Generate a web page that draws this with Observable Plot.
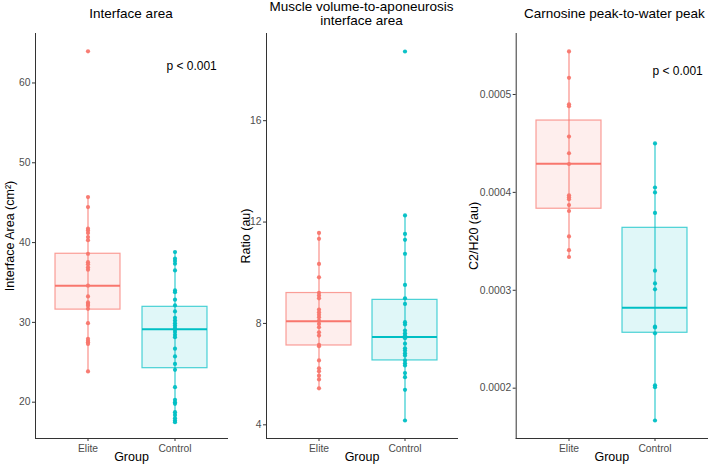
<!DOCTYPE html>
<html>
<head>
<meta charset="utf-8">
<script src="https://cdn.jsdelivr.net/npm/d3@7"></script>
<script src="https://cdn.jsdelivr.net/npm/@observablehq/plot@0.6"></script>
<style>
  html, body { margin: 0; padding: 0; background: white; }
  #chart { display: flex; width: 709px; height: 466px; overflow: hidden; font-family: "Liberation Sans", Arial, sans-serif; }
  .panel { display: flex; flex-direction: column; }
  .title { height: 28px; font-size: 13.5px; color: #000; text-align: center; line-height: 28px; white-space: nowrap; box-sizing: border-box; }
  .title.two { line-height: 14.4px; padding-top: 0; }
  svg { display: block; }
</style>
</head>
<body>
<div id="chart"></div>
<script>
const groups = ["Elite", "Control"];
const groupColors = ["#F8766D", "#00BFC4"];

// Interface area (cm²)
const areaElite = [63.97, 45.7, 44.45, 41.74, 41.5, 41.2, 40.7, 40.3, 38.6, 37.55, 37.27, 36.9, 36.6,
  34.6, 33.25, 32.5, 32.3, 32.1, 31.7, 29.9, 27.95, 27.7, 27.5, 27.3, 23.85];
const areaControl = [38.81, 37.98, 37.68, 37.35, 36.51, 34.0, 33.79, 32.84, 32.13, 31.37, 30.58, 30.24,
  29.9, 29.6, 29.3, 29.08, 28.78, 28.45, 28.15, 26.7, 25.73, 24.8, 24.06, 21.88, 20.3, 20.0, 19.8,
  18.75, 18.4, 18.0, 17.7, 17.5];
// box summaries: [lower whisker, Q1, median, Q3, upper whisker]
const areaBoxElite = [23.85, 31.6, 34.6, 38.6, 45.7];
const areaBoxControl = [17.5, 24.26, 29.15, 31.95, 38.81];
const areaTicks = [20, 30, 40, 50, 60];

// Muscle volume-to-aponeurosis interface area ratio (au)
const ratioElite = [11.57, 11.34, 10.35, 9.82, 9.21, 9.10, 8.99, 8.55, 8.44, 8.34, 8.24, 8.11, 7.98,
  7.85, 7.65, 7.52, 7.16, 7.10, 6.54, 6.23, 6.11, 5.94, 5.79, 5.44];
const ratioControl = [18.73, 12.26, 11.53, 11.30, 10.75, 9.52, 8.99, 8.77, 8.05, 7.96, 7.72, 7.61,
  7.52, 7.42, 7.20, 7.02, 6.93, 6.82, 6.73, 6.54, 6.43, 6.34, 6.04, 5.88, 5.38, 4.17];
const ratioBoxElite = [5.44, 7.13, 8.09, 9.2, 11.57];
const ratioBoxControl = [4.17, 6.54, 7.46, 8.93, 12.26];
const ratioTicks = [4, 8, 12, 16];

// Carnosine peak-to-water peak, C2/H20 (au)
const carnElite = [0.000544, 0.000517, 0.000490, 0.000488, 0.000457, 0.000440, 0.000429, 0.000397,
  0.000395, 0.000393, 0.000387, 0.000381, 0.000355, 0.000341, 0.000334];
const carnControl = [0.000450, 0.000405, 0.000400, 0.000379, 0.000320, 0.000307, 0.000301, 0.000263,
  0.000262, 0.000256, 0.000203, 0.000201, 0.000167];
const carnBoxElite = [0.0003345, 0.0003833, 0.0004292, 0.0004734, 0.000544];
const carnBoxControl = [0.000167, 0.0002566, 0.0002821, 0.0003638, 0.000450];
const carnTicks = [0.0002, 0.0003, 0.0004, 0.0005];

const panels = [
  {title: "Interface area", elite: areaElite, control: areaControl,
   boxes: [areaBoxElite, areaBoxControl], domain: [15.45, 66.2], ticks: areaTicks, format: d3.format("d"),
   ylabel: "Interface Area (cm²)", ylabelDx: -25.7, p: "p < 0.001", pY: 62.13, pDx: -10.7,
   width: 236, marginLeft: 35, marginRight: 9, titleShift: 0},
  {title: "Muscle volume-to-aponeurosis<br>interface area", two: true, elite: ratioElite, control: ratioControl,
   boxes: [ratioBoxElite, ratioBoxControl], domain: [3.46, 19.44], ticks: ratioTicks, format: d3.format("d"),
   ylabel: "Ratio (au)", ylabelDx: -21, width: 236, marginLeft: 30, marginRight: 15, titleShift: 0},
  {title: "Carnosine peak-to-water peak", elite: carnElite, control: carnControl,
   boxes: [carnBoxElite, carnBoxControl], domain: [0.0001486, 0.0005623], ticks: carnTicks, format: d3.format(".4f"),
   ylabel: "C2/H20 (au)", ylabelDx: -42, p: "p < 0.001", pY: 0.0005235, pDx: -4.7,
   width: 237, marginLeft: 43.7, marginRight: 2, titleShift: 6}
];

function drawPanel(cfg) {
  const points = [
    ...cfg.elite.map(v => ({group: "Elite", value: v})),
    ...cfg.control.map(v => ({group: "Control", value: v}))
  ];
  const boxes = groups.map((g, i) => {
    const [lo, q1, med, q3, hi] = cfg.boxes[i];
    return {group: g, lo, q1, med, q3, hi};
  });
  const marks = [
    Plot.ruleX(boxes, {x: "group", y1: "lo", y2: "hi", stroke: "group", strokeWidth: 1.3, strokeOpacity: 0.75}),
    Plot.barY(boxes, {x: "group", y1: "q1", y2: "q3", fill: "group", fillOpacity: 0.12,
      stroke: "group", strokeOpacity: 0.7, strokeWidth: 1.2}),
    Plot.tickY(boxes, {x: "group", y: "med", stroke: "group", strokeWidth: 2}),
    Plot.dot(points, {x: "group", y: "value", fill: "group", r: 2.1, fillOpacity: 0.95}),
    Plot.axisY({ticks: cfg.ticks, tickFormat: cfg.format, tickSize: 3, tickPadding: 2, label: null,
      stroke: "#333", fill: "#4d4d4d"}),
    Plot.axisX({tickSize: 3, tickPadding: 3.5, label: null, stroke: "#333", fill: "#4d4d4d"}),
    Plot.frame({anchor: "left", stroke: "#333", strokeWidth: 1}),
    Plot.frame({anchor: "bottom", stroke: "#333", strokeWidth: 1}),
    Plot.text([cfg.ylabel], {frameAnchor: "left", rotate: -90, dx: cfg.ylabelDx, fill: "#000",
      fontSize: 12.5, textAnchor: "middle"}),
    Plot.text(["Group"], {frameAnchor: "bottom", dy: 22.5, fill: "#000", fontSize: 12.5})
  ];
  if (cfg.p) {
    marks.push(Plot.text([cfg.p], {y: [cfg.pY], frameAnchor: "right", textAnchor: "end",
      dx: cfg.pDx, fill: "#000", fontSize: 12}));
  }
  return Plot.plot({
    width: cfg.width,
    height: 438,
    marginLeft: cfg.marginLeft,
    marginRight: cfg.marginRight,
    marginTop: 5,
    marginBottom: 28,
    style: {fontFamily: "'Liberation Sans', Arial, sans-serif", fontSize: "10.3px", background: "white", overflow: "visible"},
    x: {type: "band", domain: groups, paddingInner: 0.25, paddingOuter: 0.225, axis: null},
    y: {domain: cfg.domain, axis: null},
    color: {domain: groups, range: groupColors},
    marks
  });
}

const chart = document.getElementById("chart");
for (const cfg of panels) {
  const div = document.createElement("div");
  div.className = "panel";
  div.style.width = cfg.width + "px";
  const t = document.createElement("div");
  t.className = "title" + (cfg.two ? " two" : "");
  t.style.paddingLeft = (cfg.marginLeft + cfg.titleShift) + "px";
  t.style.paddingRight = cfg.marginRight + "px";
  t.innerHTML = cfg.title;
  div.appendChild(t);
  div.appendChild(drawPanel(cfg));
  chart.appendChild(div);
}
</script>
</body>
</html>
